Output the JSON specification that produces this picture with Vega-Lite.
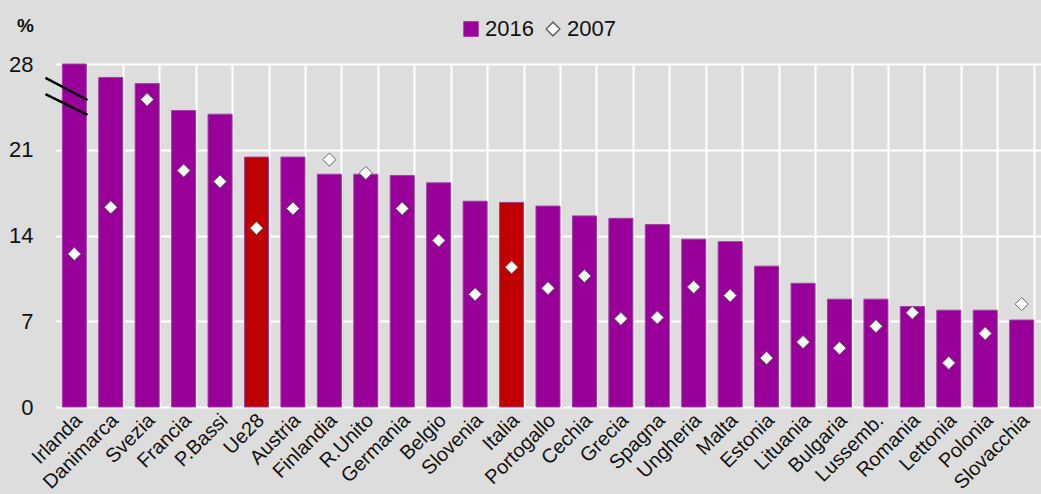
{
  "$schema": "https://vega.github.io/schema/vega-lite/v6.json",
  "width": 986,
  "height": 343,
  "autosize": {"type": "none"},
  "padding": {"left": 55, "top": 64, "right": 0, "bottom": 87},
  "background": "#dddddd",
  "config": {
    "view": {"stroke": null, "fill": "#dddddd"},
    "font": "Liberation Sans Narrow, Arial Narrow, Liberation Sans",
    "axis": {"labelFont": "Liberation Sans Narrow, Arial Narrow, Liberation Sans", "labelColor": "#111111"},
    "legend": {"labelFont": "Liberation Sans Narrow, Arial Narrow, Liberation Sans"}
  },
  "data": {
    "values": [
      {"c": "Irlanda", "2016": 28.0, "2007": 12.5},
      {"c": "Danimarca", "2016": 26.9, "2007": 16.3},
      {"c": "Svezia", "2016": 26.4, "2007": 25.1},
      {"c": "Francia", "2016": 24.2, "2007": 19.3},
      {"c": "P.Bassi", "2016": 23.9, "2007": 18.4},
      {"c": "Ue28", "2016": 20.4, "2007": 14.6},
      {"c": "Austria", "2016": 20.4, "2007": 16.2},
      {"c": "Finlandia", "2016": 19.0, "2007": 20.2},
      {"c": "R.Unito", "2016": 19.0, "2007": 19.1},
      {"c": "Germania", "2016": 18.9, "2007": 16.2},
      {"c": "Belgio", "2016": 18.3, "2007": 13.6},
      {"c": "Slovenia", "2016": 16.8, "2007": 9.2},
      {"c": "Italia", "2016": 16.7, "2007": 11.4},
      {"c": "Portogallo", "2016": 16.4, "2007": 9.7},
      {"c": "Cechia", "2016": 15.6, "2007": 10.7},
      {"c": "Grecia", "2016": 15.4, "2007": 7.2},
      {"c": "Spagna", "2016": 14.9, "2007": 7.3},
      {"c": "Ungheria", "2016": 13.7, "2007": 9.8},
      {"c": "Malta", "2016": 13.5, "2007": 9.1},
      {"c": "Estonia", "2016": 11.5, "2007": 4.0},
      {"c": "Lituania", "2016": 10.1, "2007": 5.3},
      {"c": "Bulgaria", "2016": 8.8, "2007": 4.8},
      {"c": "Lussemb.", "2016": 8.8, "2007": 6.6},
      {"c": "Romania", "2016": 8.2, "2007": 7.7},
      {"c": "Lettonia", "2016": 7.9, "2007": 3.6},
      {"c": "Polonia", "2016": 7.9, "2007": 6.0},
      {"c": "Slovacchia", "2016": 7.1, "2007": 8.4}
    ]
  },
  "transform": [{"fold": ["2016", "2007"], "as": ["key", "value"]}],
  "encoding": {
    "x": {
      "field": "c",
      "type": "nominal",
      "sort": null,
      "scale": {"paddingInner": 0.34, "paddingOuter": 0.2},
      "axis": {
        "title": null,
        "domain": false,
        "ticks": false,
        "grid": true,
        "gridColor": "#ffffff",
        "gridWidth": 2,
        "gridOpacity": 1,
        "tickBand": "extent",
        "labelAngle": -45,
        "labelAlign": "right",
        "labelBaseline": "middle",
        "labelFontSize": 20,
        "labelPadding": 10,
        "labelOffset": 4
      }
    }
  },
  "layer": [
    {
      "transform": [{"filter": "datum.key === '2016'"}],
      "mark": {"type": "bar", "stroke": "#a040a0", "strokeWidth": 1},
      "encoding": {
        "y": {
          "field": "value",
          "type": "quantitative",
          "scale": {"domain": [0, 28], "nice": false},
          "axis": {
            "values": [0, 7, 14, 21, 28],
            "domain": false,
            "ticks": false,
            "grid": true,
            "gridColor": "#ffffff",
            "gridWidth": 2,
            "gridOpacity": 1,
            "labelFontSize": 22,
            "labelPadding": 22,
            "title": "%",
            "titleAngle": 0,
            "titleX": -30,
            "titleY": -39,
            "titleAlign": "center",
            "titleBaseline": "middle",
            "titleFontSize": 19,
            "titleFontWeight": "bold",
            "titleFont": "Liberation Sans Narrow, Arial Narrow, Liberation Sans",
            "titleColor": "#111111"
          }
        },
        "color": {
          "field": "key",
          "type": "nominal",
          "scale": {"domain": ["2016", "2007"], "range": ["#990099", "#ffffff"]},
          "condition": {"test": "datum.c === 'Ue28' || datum.c === 'Italia'", "value": "#c00000"},
          "legend": {
            "orient": "none",
            "legendX": 405,
            "legendY": -46,
            "direction": "horizontal",
            "title": null,
            "labelFontSize": 22,
            "labelColor": "#111111",
            "symbolSize": 190,
            "labelOffset": 3,
            "columnPadding": 8,
            "padding": 0
          }
        }
      }
    },
    {
      "transform": [{"filter": "datum.key === '2007'"}],
      "mark": {"type": "point", "filled": true, "size": 170, "strokeWidth": 1, "opacity": 1},
      "encoding": {
        "y": {"field": "value", "type": "quantitative"},
        "color": {"field": "key", "type": "nominal"},
        "shape": {
          "field": "key",
          "type": "nominal",
          "scale": {"domain": ["2016", "2007"], "range": ["square", "diamond"]}
        },
        "stroke": {
          "field": "key",
          "type": "nominal",
          "scale": {"domain": ["2016", "2007"], "range": ["#990099", "#666666"]}
        }
      }
    },
    {
      "data": {
        "values": [
          {"c": "Irlanda", "ya": 26.86, "yb": 25.06},
          {"c": "Irlanda", "ya": 25.55, "yb": 23.84}
        ]
      },
      "mark": {"type": "rule", "color": "#000000", "strokeWidth": 2.5},
      "encoding": {
        "x": {"field": "c", "type": "nominal", "bandPosition": -0.7},
        "x2": {"field": "c", "bandPosition": 1.05},
        "y": {"field": "ya", "type": "quantitative"},
        "y2": {"field": "yb"}
      }
    }
  ]
}
